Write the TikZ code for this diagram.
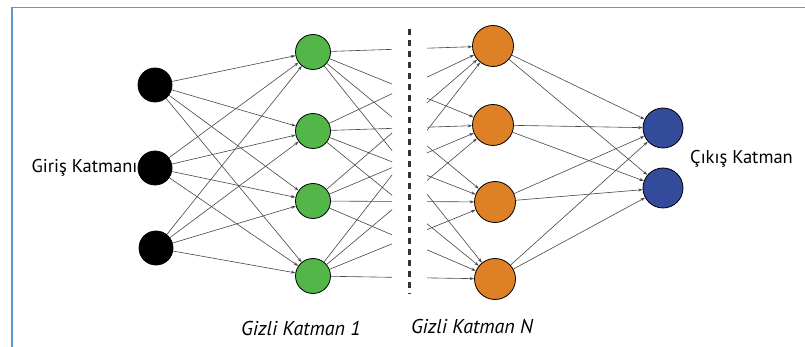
\documentclass[tikz,border=0pt]{standalone}
\usepackage{fontspec}
\setmainfont{PT Sans}
\usetikzlibrary{arrows.meta,positioning}

\definecolor{framecol}{RGB}{91,155,213}
\definecolor{ingreen}{RGB}{82,183,72}
\definecolor{hidorange}{RGB}{222,128,38}
\definecolor{outblue}{RGB}{52,74,155}
\definecolor{edgegray}{RGB}{70,70,70}

\tikzset{
    neuron/.style = {circle, draw=black, line width=0.8pt, inner sep=0pt},
    edge/.style = {draw=edgegray, line width=0.6pt, -{Stealth[length=4.5pt,width=3pt]}},
    lbl/.style = {inner sep=0pt, font=\fontsize{18.5}{22}\selectfont},
    hlbl/.style = {inner sep=0pt, font=\fontsize{20}{24}\selectfont\itshape},
}

\begin{document}
\begin{tikzpicture}[x=1pt, y=-1pt]
    \useasboundingbox (0,0) rectangle (805,347);
    \draw[framecol, line width=1.5pt] (12,347) -- (12,7.5) -- (805,7.5);

    \node[neuron, fill=black, minimum size=34pt] (in1) at (155,85) {};
    \node[neuron, fill=black, minimum size=34pt] (in2) at (155,168) {};
    \node[neuron, fill=black, minimum size=34pt] (in3) at (156,248) {};

    \node[neuron, fill=ingreen, minimum size=35pt] (g1) at (313,52) {};
    \node[neuron, fill=ingreen, minimum size=35pt] (g2) at (313,131) {};
    \node[neuron, fill=ingreen, minimum size=35pt] (g3) at (313,201) {};
    \node[neuron, fill=ingreen, minimum size=35pt] (g4) at (313,276) {};

    \node[neuron, fill=hidorange, minimum size=41pt] (o1) at (493,46) {};
    \node[neuron, fill=hidorange, minimum size=41pt] (o2) at (493,125) {};
    \node[neuron, fill=hidorange, minimum size=41pt] (o3) at (495,202) {};
    \node[neuron, fill=hidorange, minimum size=41pt] (o4) at (495,279) {};

    \node[neuron, fill=outblue, minimum size=40pt] (y1) at (663,128) {};
    \node[neuron, fill=outblue, minimum size=40pt] (y2) at (663,188) {};

    \foreach \i in {1,2,3}
        \foreach \j in {1,2,3,4}
            \draw[edge] (in\i) -- (g\j);

    % gap round the dashed line
    \begin{scope}
        \clip (0,0) rectangle (392,347) (427,0) rectangle (805,347);
        \foreach \i in {1,2,3,4}
            \foreach \j in {1,2,3,4}
                \draw[edge] (g\i) -- (o\j);
    \end{scope}

    \foreach \i in {1,2,3,4}
        \foreach \j in {1,2}
            \draw[edge] (o\i) -- (y\j);

    \draw[black!80, line width=3pt, dash pattern=on 6pt off 5pt] (409,29) -- (409,294);

    \node[lbl, left=0pt of in2] (inlbl) {Giriş Katmanı};
    \node[lbl, anchor=west] (outlbl) at (690,159) {Çıkış Katman};
    \node[hlbl] (h1lbl) at (301,328) {Gizli Katman 1};
    \node[hlbl] (hnlbl) at (472,326) {Gizli Katman N};
\end{tikzpicture}
\end{document}
